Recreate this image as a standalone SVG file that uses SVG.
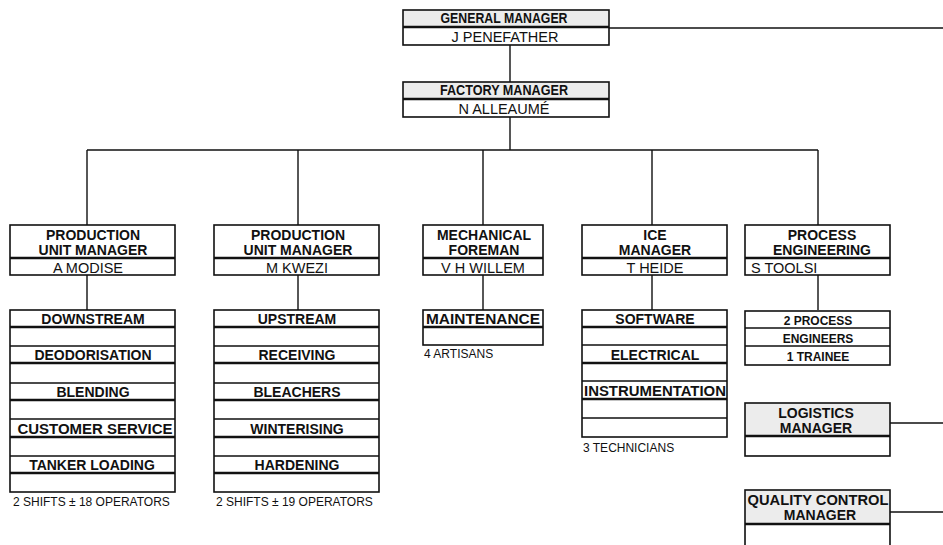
<svg xmlns="http://www.w3.org/2000/svg" width="943" height="545" viewBox="0 0 943 545">
<style>
.bx{fill:#fff;stroke:#111;stroke-width:1.6}
.hd{fill:#ececec;stroke:#111;stroke-width:1.6}
.tk{stroke:#111;stroke-width:2.6}
.tn{stroke:#111;stroke-width:1.4}
.ln{fill:none;stroke:#111;stroke-width:1.4}
.h{font-family:"Liberation Sans",Arial,sans-serif;font-weight:bold;font-size:14px;fill:#111;text-anchor:middle}
.n{font-family:"Liberation Sans",Arial,sans-serif;font-size:14.5px;fill:#111;text-anchor:middle}
.s{font-family:"Liberation Sans",Arial,sans-serif;font-size:12px;fill:#111}
.sb{font-family:"Liberation Sans",Arial,sans-serif;font-weight:bold;font-size:12px;fill:#111;text-anchor:middle}
</style>
<rect width="943" height="545" fill="#fff"/>
<g id="connectors">
<path class="ln" d="M609 28H943"/>
<path class="ln" d="M510 45V82M510 117V150M87 150H818M87 150V225M298 150V225M483 150V225M652 150V225M818 150V225"/>
<path class="ln" d="M87 275V310M298 275V310M483 275V310M652 275V310M818 275V310"/>
<path class="ln" d="M890 423H943M890 512H943"/>
</g>
<g id="general-manager">
<rect class="hd" x="403" y="10" width="206" height="35"/>
<rect x="404" y="28" width="204" height="16" fill="#fff"/>
<line class="tk" x1="403" y1="27" x2="609" y2="27"/>
<text class="h" x="504" y="23" textLength="127" lengthAdjust="spacingAndGlyphs">GENERAL MANAGER</text>
<text class="n" x="505" y="42">J PENEFATHER</text>
</g>
<g id="factory-manager">
<rect class="hd" x="403" y="82" width="206" height="35"/>
<rect x="404" y="100" width="204" height="16" fill="#fff"/>
<line class="tk" x1="403" y1="99" x2="609" y2="99"/>
<text class="h" x="504" y="95" textLength="128" lengthAdjust="spacingAndGlyphs">FACTORY MANAGER</text>
<text class="n" x="504" y="114">N ALLEAUMÉ</text>
</g>
<g id="pum-modise">
<rect class="bx" x="10" y="225" width="165" height="50"/>
<line class="tk" x1="10" y1="258" x2="175" y2="258"/>
<text class="h" x="93" y="240">PRODUCTION</text>
<text class="h" x="93" y="255">UNIT MANAGER</text>
<text class="n" x="88" y="273">A MODISE</text>
</g>
<g id="pum-kwezi">
<rect class="bx" x="214" y="225" width="165" height="50"/>
<line class="tk" x1="214" y1="258" x2="379" y2="258"/>
<text class="h" x="298" y="240">PRODUCTION</text>
<text class="h" x="298" y="255">UNIT MANAGER</text>
<text class="n" x="297" y="273">M KWEZI</text>
</g>
<g id="mechanical-foreman">
<rect class="bx" x="423" y="225" width="120" height="50"/>
<line class="tk" x1="423" y1="258" x2="543" y2="258"/>
<text class="h" x="484" y="240">MECHANICAL</text>
<text class="h" x="484" y="255">FOREMAN</text>
<text class="n" x="483" y="273">V H WILLEM</text>
</g>
<g id="ice-manager">
<rect class="bx" x="582" y="225" width="145" height="50"/>
<line class="tk" x1="582" y1="258" x2="727" y2="258"/>
<text class="h" x="655" y="240">ICE</text>
<text class="h" x="655" y="255">MANAGER</text>
<text class="n" x="655" y="273">T HEIDE</text>
</g>
<g id="process-engineering">
<rect class="bx" x="745" y="225" width="145" height="50"/>
<line class="tk" x1="745" y1="258" x2="890" y2="258"/>
<text class="h" x="822" y="240">PROCESS</text>
<text class="h" x="822" y="255">ENGINEERING</text>
<text class="n" x="751" y="273" style="text-anchor:start">S TOOLSI</text>
</g>
<g id="downstream-sections">
<rect class="bx" x="10" y="310" width="165" height="182"/>
<path class="tk" d="M10 327H175M10 363H175M10 400H175M10 437H175M10 473H175"/>
<path class="tn" d="M10 346H175M10 383H175M10 419H175M10 456H175"/>
<text class="h" x="93" y="324">DOWNSTREAM</text>
<text class="h" x="93" y="360">DEODORISATION</text>
<text class="h" x="93" y="397">BLENDING</text>
<text class="h" x="95" y="434" textLength="155" lengthAdjust="spacingAndGlyphs">CUSTOMER SERVICE</text>
<text class="h" x="92" y="470">TANKER LOADING</text>
<text class="s" x="13" y="506">2 SHIFTS ± 18 OPERATORS</text>
</g>
<g id="upstream-sections">
<rect class="bx" x="214" y="310" width="165" height="182"/>
<path class="tk" d="M214 327H379M214 363H379M214 400H379M214 437H379M214 473H379"/>
<path class="tn" d="M214 346H379M214 383H379M214 419H379M214 456H379"/>
<text class="h" x="297" y="324">UPSTREAM</text>
<text class="h" x="297" y="360">RECEIVING</text>
<text class="h" x="297" y="397">BLEACHERS</text>
<text class="h" x="297" y="434">WINTERISING</text>
<text class="h" x="297" y="470">HARDENING</text>
<text class="s" x="216" y="506">2 SHIFTS ± 19 OPERATORS</text>
</g>
<g id="maintenance">
<rect class="bx" x="423" y="310" width="120" height="35"/>
<line class="tk" x1="423" y1="327" x2="543" y2="327"/>
<text class="h" x="483" y="324" textLength="114" lengthAdjust="spacingAndGlyphs">MAINTENANCE</text>
<text class="s" x="424" y="358">4 ARTISANS</text>
</g>
<g id="ice-sections">
<rect class="bx" x="582" y="310" width="145" height="127"/>
<path class="tk" d="M582 327H727M582 363H727M582 399H727"/>
<path class="tn" d="M582 345H727M582 381H727M582 418H727"/>
<text class="h" x="655" y="324">SOFTWARE</text>
<text class="h" x="655" y="360">ELECTRICAL</text>
<text class="h" x="655" y="396" textLength="142" lengthAdjust="spacingAndGlyphs">INSTRUMENTATION</text>
<text class="s" x="583" y="452">3 TECHNICIANS</text>
</g>
<g id="process-engineers">
<rect class="bx" x="745" y="311" width="145" height="54"/>
<path class="tn" d="M745 328H890M745 346H890"/>
<text class="sb" x="818" y="325">2 PROCESS</text>
<text class="sb" x="818" y="343">ENGINEERS</text>
<text class="sb" x="818" y="361">1 TRAINEE</text>
</g>
<g id="logistics-manager">
<rect class="hd" x="745" y="403" width="145" height="53"/>
<rect x="746" y="437" width="143" height="18" fill="#fff"/>
<line class="tk" x1="745" y1="436" x2="890" y2="436"/>
<text class="h" x="816" y="418">LOGISTICS</text>
<text class="h" x="816" y="433">MANAGER</text>
</g>
<g id="quality-control-manager">
<rect class="hd" x="745" y="490" width="145" height="70"/>
<rect x="746" y="525" width="143" height="34" fill="#fff"/>
<line class="tk" x1="745" y1="524" x2="890" y2="524"/>
<text class="h" x="818" y="505" textLength="141" lengthAdjust="spacingAndGlyphs">QUALITY CONTROL</text>
<text class="h" x="820" y="520">MANAGER</text>
</g>
</svg>
